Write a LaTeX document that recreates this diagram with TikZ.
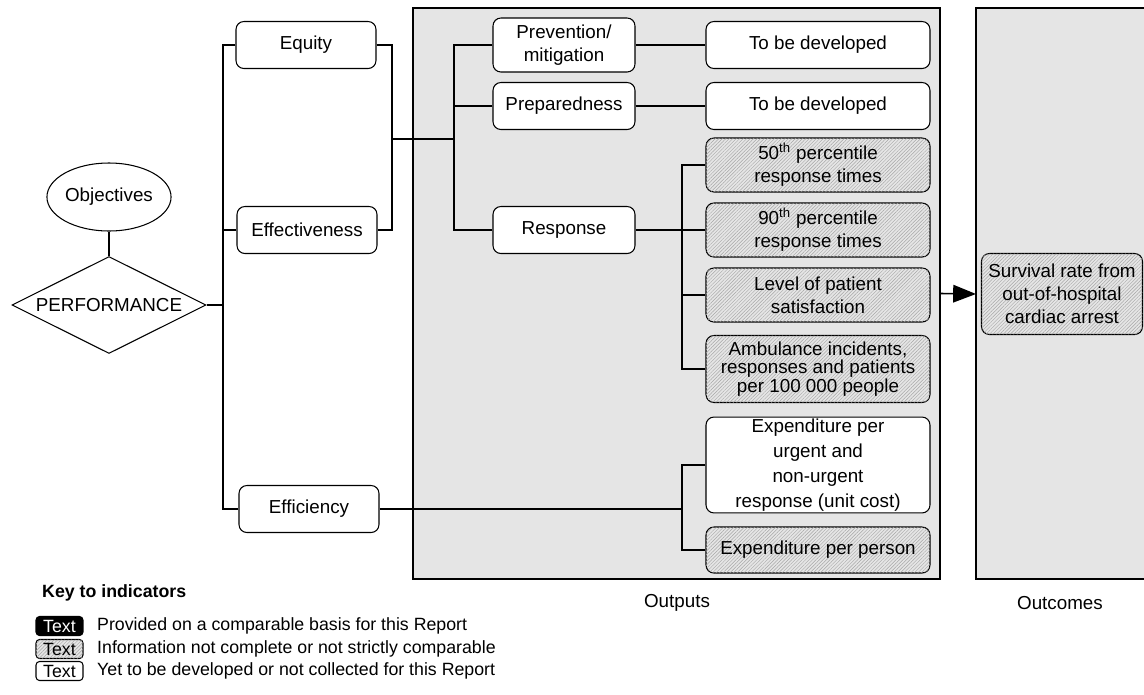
\documentclass[tikz,border=0pt]{standalone}
\usepackage{fontspec}
\setmainfont{Liberation Sans}
\usetikzlibrary{arrows.meta,shapes.geometric,patterns.meta}

\begin{document}
\begin{tikzpicture}[x=0.02cm,y=-0.02cm,font=\fontsize{10.7}{13}\selectfont,
 ln/.style={line width=0.6pt},
 box/.style={draw,ln,rounded corners=4.5pt,fill=white,align=center,inner sep=1pt,minimum height=0.94cm},
 hatch/.style={fill=black!10,postaction={pattern={Lines[angle=45,distance=1.4pt,line width=0.25pt]},pattern color=black!35}},
 part/.style={box,hatch},
 panel/.style={draw,line width=1pt,fill=black!10,inner sep=0},
 kbox/.style={draw,ln,rounded corners=2pt,minimum width=0.94cm,minimum height=0.38cm,inner sep=0,font=\fontsize{10.1}{12}\selectfont},
 ktxt/.style={anchor=west,font=\fontsize{10.1}{12}\selectfont}]
\useasboundingbox (0,0) rectangle (1144,694);
% output and outcome panels
\node[panel,minimum width=10.54cm,minimum height=11.42cm] (outp) at (676.5,293.5) {};
\fill[black!10] (976,8) rectangle (1144,579);
\draw[line width=1pt] (1144,8) -- (976,8) -- (976,579) -- (1144,579);
\coordinate (outc) at (976,294);
% objectives
\node[draw,ln,ellipse,minimum width=2.24cm,minimum height=1.36cm,inner sep=0] (obj) at (109,197) {Objectives};
\node[draw,ln,diamond,aspect=2,minimum width=3.88cm,minimum height=1.94cm,inner sep=0] (perf) at (109,305) {PERFORMANCE};
\node[box,minimum width=2.8cm] (equ) at (306,45) {Equity};
\node[box,minimum width=2.8cm] (eff) at (307,230) {Effectiveness};
\node[box,minimum width=2.8cm] (effy) at (309,509) {Efficiency};
% outputs
\node[box,minimum width=2.84cm,minimum height=1.08cm] (prev) at (564,45) {Prevention/\\mitigation};
\node[box,minimum width=2.84cm] (prep) at (564,106) {Preparedness};
\node[box,minimum width=2.84cm] (resp) at (564,230) {Response};
\node[box,minimum width=4.48cm] (tbd1) at (818,45) {To be developed};
\node[box,minimum width=4.48cm] (tbd2) at (818,106) {To be developed};
\node[part,minimum width=4.48cm,minimum height=1.08cm] (p50) at (818,165) {50\textsuperscript{th} percentile\\response times};
\node[part,minimum width=4.48cm,minimum height=1.08cm] (p90) at (818,230) {90\textsuperscript{th} percentile\\response times};
\node[part,minimum width=4.48cm,minimum height=1.08cm] (sat) at (818,295) {Level of patient\\satisfaction};
\node[part,minimum width=4.48cm,minimum height=1.34cm,font=\fontsize{10.7}{8.8}\selectfont] (amb) at (818,369) {Ambulance incidents,\\responses and patients\\per 100 000 people};
\node[box,minimum width=4.48cm,minimum height=1.9cm,font=\fontsize{10.7}{14.2}\selectfont] (urg) at (818,465) {Expenditure per\\urgent and\\non-urgent\\response (unit cost)};
\node[part,minimum width=4.48cm,minimum height=0.92cm] (pers) at (818,550) {Expenditure per person};
% outcome
\node[part,minimum width=3.22cm,minimum height=1.62cm] (surv) at (1062,294) {Survival rate from\\out-of-hospital\\cardiac arrest};
\node (lout) at (677,603) {Outputs};
\node (lotc) at (1060,603) {Outcomes};
% connectors
\coordinate (tx) at (223,0);
\coordinate (bx) at (392,139);
\coordinate (ox) at (454,0);
\coordinate (rx) at (682,0);
\draw[ln] (obj) -- (perf);
\draw[ln] (perf.east) -- (perf.east -| tx);
\draw[ln] (equ.west) -- (equ.west -| tx) -- (effy.west -| tx) -- (effy.west);
\draw[ln] (eff.west) -- (eff.west -| tx);
\draw[ln] (equ.east) -- (equ.east -| bx) -- (eff.east -| bx) -- (eff.east);
\draw[ln] (bx) -- (bx -| ox);
\draw[ln] (prev.west) -- (prev.west -| ox) -- (resp.west -| ox) -- (resp.west);
\draw[ln] (prep.west) -- (prep.west -| ox);
\draw[ln] (prev) -- (tbd1);
\draw[ln] (prep) -- (tbd2);
\draw[ln] (resp.east) -- (resp.east -| rx);
\draw[ln] (p50.west) -- (p50.west -| rx) -- (amb.west -| rx) -- (amb.west);
\foreach \n in {p90,sat} \draw[ln] (\n.west) -- (\n.west -| rx);
\draw[ln] (effy.east) -- (effy.east -| rx);
\draw[ln] (urg.west) -- (urg.west -| rx) -- (pers.west -| rx) -- (pers.west);
\draw[line width=0.9pt,-{Triangle[length=13pt,width=10pt]}] (outp.east) -- (outc);
% key
\node[anchor=west,font=\fontsize{10.1}{12}\selectfont\bfseries] (key) at (36,593) {Key to indicators};
\node[kbox,fill=black,text=white] (k1) at (59.5,626) {Text};
\node[kbox,hatch] (k2) at (59.5,649) {Text};
\node[kbox,fill=white] (k3) at (59.5,671) {Text};
\node[ktxt] (t1) at (91,626) {Provided on a comparable basis for this Report};
\node[ktxt] (t2) at (91,649) {Information not complete or not strictly comparable};
\node[ktxt] (t3) at (91,671) {Yet to be developed or not collected for this Report};
\end{tikzpicture}
\end{document}
